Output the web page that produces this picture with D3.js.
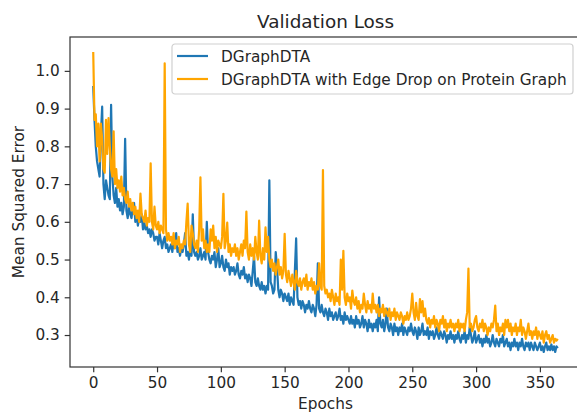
<!DOCTYPE html>
<html>
<head>
<meta charset="utf-8">
<script src="https://cdn.jsdelivr.net/npm/d3@7"></script>
<style>
  body { margin: 0; background: #fff; }
  text { font-family: "DejaVu Sans", sans-serif; fill: #262626; }
</style>
</head>
<body>
<div id="chart"></div>
<script>
const WIDTH = 577;
const HEIGHT = 412;
const MARGIN = { top: 37, right: -4, bottom: 45, left: 70 };

// validation loss per epoch
const dgraphdta = [
  0.96, 0.87, 0.80, 0.76, 0.74, 0.72, 0.83, 0.905, 0.70, 0.66,
  0.71, 0.69, 0.67, 0.66, 0.91, 0.72, 0.67, 0.65, 0.69, 0.64,
  0.66, 0.63, 0.65, 0.62, 0.64, 0.82, 0.63, 0.61, 0.64, 0.62,
  0.61, 0.64, 0.65, 0.60, 0.62, 0.59, 0.61, 0.60, 0.62, 0.58,
  0.60, 0.58, 0.59, 0.57, 0.58, 0.56, 0.58, 0.57, 0.55, 0.56,
  0.56, 0.54, 0.57, 0.55, 0.53, 0.55, 0.56, 0.53, 0.54, 0.52,
  0.53, 0.54, 0.52, 0.55, 0.53, 0.57, 0.52, 0.53, 0.51, 0.53,
  0.52, 0.54, 0.57, 0.51, 0.52, 0.50, 0.53, 0.51, 0.62, 0.52,
  0.51, 0.52, 0.50, 0.51, 0.53, 0.50, 0.51, 0.52, 0.50, 0.60,
  0.52, 0.50, 0.49, 0.51, 0.50, 0.52, 0.48, 0.50, 0.53, 0.48,
  0.49, 0.51, 0.48, 0.47, 0.50, 0.48, 0.49, 0.46, 0.48, 0.47,
  0.48, 0.46, 0.47, 0.49, 0.46, 0.45, 0.47, 0.46, 0.48, 0.45,
  0.46, 0.44, 0.46, 0.45, 0.43, 0.47, 0.51, 0.44, 0.43, 0.45,
  0.43, 0.42, 0.44, 0.42, 0.43, 0.41, 0.43, 0.42, 0.71, 0.44,
  0.43, 0.41, 0.42, 0.52, 0.48, 0.42, 0.40, 0.42, 0.41, 0.39,
  0.41, 0.40, 0.39, 0.41, 0.38, 0.40, 0.39, 0.38, 0.47, 0.556,
  0.40, 0.38, 0.39, 0.37, 0.39, 0.38, 0.36, 0.38, 0.37, 0.39,
  0.37, 0.36, 0.38, 0.37, 0.35, 0.38, 0.49, 0.37, 0.36, 0.38,
  0.36, 0.35, 0.37, 0.36, 0.34, 0.37, 0.35, 0.36, 0.34, 0.35,
  0.36, 0.34, 0.35, 0.37, 0.34, 0.35, 0.33, 0.36, 0.34, 0.35,
  0.34, 0.33, 0.35, 0.33, 0.34, 0.32, 0.35, 0.33, 0.34, 0.32,
  0.33, 0.35, 0.32, 0.34, 0.33, 0.31, 0.34, 0.32, 0.33, 0.31,
  0.33, 0.32, 0.34, 0.31, 0.40, 0.33, 0.32, 0.34, 0.31, 0.33,
  0.37, 0.32, 0.31, 0.33, 0.32, 0.30, 0.33, 0.31, 0.32, 0.30,
  0.32, 0.31, 0.33, 0.30, 0.32, 0.31, 0.30, 0.32, 0.31, 0.33,
  0.31, 0.30, 0.32, 0.31, 0.29, 0.32, 0.30, 0.31, 0.33, 0.30,
  0.31, 0.30, 0.32, 0.29, 0.31, 0.30, 0.31, 0.29, 0.30, 0.32,
  0.30, 0.29, 0.31, 0.30, 0.29, 0.31, 0.30, 0.28, 0.30, 0.29,
  0.31, 0.29, 0.30, 0.28, 0.30, 0.29, 0.31, 0.29, 0.28, 0.30,
  0.29, 0.31, 0.28, 0.30, 0.29, 0.32, 0.30, 0.28, 0.29, 0.31,
  0.28, 0.29, 0.30, 0.28, 0.29, 0.27, 0.29, 0.28, 0.30, 0.28,
  0.29, 0.27, 0.28, 0.30, 0.28, 0.27, 0.29, 0.28, 0.27, 0.29,
  0.28, 0.30, 0.27, 0.28, 0.29, 0.27, 0.28, 0.26, 0.28, 0.27,
  0.29, 0.27, 0.28, 0.26, 0.28, 0.27, 0.29, 0.27, 0.26, 0.28,
  0.27, 0.28, 0.26, 0.28, 0.27, 0.26, 0.28, 0.27, 0.26, 0.27,
  0.28, 0.26, 0.27, 0.255, 0.27, 0.28, 0.26, 0.27, 0.26, 0.275,
  0.26, 0.27, 0.255, 0.27, 0.265
];

const edgeDrop = [
  1.05, 0.87, 0.885, 0.80, 0.86, 0.76, 0.86, 0.82, 0.74, 0.73,
  0.87, 0.78, 0.875, 0.80, 0.74, 0.72, 0.84, 0.70, 0.74, 0.69,
  0.71, 0.68, 0.72, 0.67, 0.69, 0.66, 0.65, 0.68, 0.64, 0.66,
  0.63, 0.65, 0.62, 0.64, 0.61, 0.63, 0.60, 0.675, 0.62, 0.61,
  0.60, 0.63, 0.59, 0.61, 0.60, 0.755, 0.60, 0.58, 0.64, 0.59,
  0.58, 0.60, 0.57, 0.59, 0.58, 0.57, 1.02, 0.58, 0.55, 0.57,
  0.55, 0.56, 0.54, 0.57, 0.53, 0.55, 0.54, 0.56, 0.52, 0.54,
  0.53, 0.55, 0.54, 0.60, 0.648, 0.54, 0.52, 0.59, 0.57, 0.54,
  0.53, 0.55, 0.52, 0.58, 0.718, 0.55, 0.58, 0.53, 0.55, 0.52,
  0.54, 0.52, 0.58, 0.55, 0.59, 0.53, 0.56, 0.52, 0.55, 0.54,
  0.53, 0.56, 0.674, 0.53, 0.55, 0.598, 0.52, 0.54, 0.51, 0.53,
  0.52, 0.54, 0.51, 0.53, 0.50, 0.52, 0.54, 0.51, 0.55, 0.53,
  0.627, 0.52, 0.50, 0.54, 0.51, 0.53, 0.50, 0.56, 0.52, 0.50,
  0.603, 0.51, 0.49, 0.53, 0.50, 0.585, 0.52, 0.56, 0.50, 0.48,
  0.50, 0.47, 0.49, 0.46, 0.48, 0.50, 0.46, 0.48, 0.45, 0.47,
  0.568, 0.46, 0.44, 0.47, 0.45, 0.43, 0.46, 0.44, 0.42, 0.47,
  0.44, 0.43, 0.45, 0.42, 0.44, 0.45, 0.43, 0.46, 0.42, 0.44,
  0.43, 0.45, 0.42, 0.44, 0.41, 0.43, 0.42, 0.49, 0.43, 0.42,
  0.737, 0.43, 0.41, 0.42, 0.40, 0.41, 0.39, 0.42, 0.40, 0.38,
  0.41, 0.39, 0.40, 0.38, 0.50, 0.42, 0.523, 0.40, 0.38, 0.41,
  0.39, 0.40, 0.37, 0.418, 0.39, 0.38, 0.40, 0.37, 0.39, 0.36,
  0.38, 0.37, 0.41, 0.38, 0.36, 0.39, 0.37, 0.38, 0.36, 0.41,
  0.37, 0.38, 0.36, 0.38, 0.35, 0.37, 0.36, 0.38, 0.35, 0.37,
  0.36, 0.35, 0.37, 0.34, 0.36, 0.35, 0.37, 0.34, 0.36, 0.35,
  0.34, 0.36, 0.35, 0.33, 0.35, 0.34, 0.36, 0.34, 0.35, 0.37,
  0.41, 0.36, 0.34, 0.385, 0.35, 0.34, 0.395, 0.36, 0.39, 0.35,
  0.37, 0.34, 0.33, 0.345, 0.32, 0.34, 0.33, 0.35, 0.32, 0.34,
  0.33, 0.31, 0.34, 0.33, 0.35, 0.32, 0.34, 0.31, 0.33, 0.32,
  0.34, 0.32, 0.33, 0.31, 0.33, 0.32, 0.34, 0.31, 0.33, 0.32,
  0.33, 0.31, 0.34, 0.36, 0.476, 0.32, 0.33, 0.31, 0.32, 0.34,
  0.35, 0.32, 0.31, 0.33, 0.32, 0.34, 0.31, 0.33, 0.32, 0.30,
  0.32, 0.31, 0.33, 0.32, 0.34, 0.378, 0.31, 0.33, 0.30, 0.32,
  0.31, 0.33, 0.30, 0.34, 0.32, 0.34, 0.31, 0.33, 0.30, 0.32,
  0.31, 0.33, 0.30, 0.32, 0.31, 0.34, 0.30, 0.32, 0.31, 0.29,
  0.31, 0.33, 0.30, 0.31, 0.29, 0.31, 0.30, 0.32, 0.29, 0.31,
  0.30, 0.29, 0.31, 0.28, 0.30, 0.31, 0.29, 0.30, 0.28, 0.29,
  0.30, 0.28, 0.29, 0.285, 0.29
];

const seriesNames = ["DGraphDTA", "DGraphDTA with Edge Drop on Protein Graph"];
const seriesColors = ["#1f77b4", "#ffa500"];
const xTicks = [0, 50, 100, 150, 200, 250, 300, 350];
const yTicks = [0.3, 0.4, 0.5, 0.6, 0.7, 0.8, 0.9, 1.0];

const FONT = "15.3px";

const series = [dgraphdta, edgeDrop].map((values, i) => ({
  name: seriesNames[i],
  color: seriesColors[i],
  values: values.map((v, epoch) => ({ epoch, v }))
}));

const svg = d3.select("#chart").append("svg")
  .attr("width", WIDTH)
  .attr("height", HEIGHT);

const x0 = MARGIN.left, x1 = WIDTH - MARGIN.right;
const y0 = HEIGHT - MARGIN.bottom, y1 = MARGIN.top;

// matplotlib style 5% padding around the data
const nEpochs = d3.max(series, s => s.values.length) - 1;
const vMin = d3.min(series, s => d3.min(s.values, d => d.v));
const vMax = d3.max(series, s => d3.max(s.values, d => d.v));
const xPad = nEpochs * 0.05, yPad = (vMax - vMin) * 0.05;

const x = d3.scaleLinear().domain([-xPad, nEpochs + xPad]).range([x0, x1]);
const y = d3.scaleLinear().domain([vMin - yPad, vMax + yPad]).range([y0, y1]);

svg.append("clipPath").attr("id", "plot")
  .append("rect")
  .attr("x", x0).attr("y", y1)
  .attr("width", x1 - x0).attr("height", y0 - y1);

const line = d3.line()
  .x(d => x(d.epoch))
  .y(d => y(d.v));

svg.append("g")
  .attr("clip-path", "url(#plot)")
  .selectAll("path")
  .data(series)
  .join("path")
  .attr("fill", "none")
  .attr("stroke", d => d.color)
  .attr("stroke-width", 2.2)
  .attr("stroke-linejoin", "round")
  .attr("d", d => line(d.values));

// axes
const xAxis = svg.append("g")
  .attr("transform", `translate(0,${y0})`)
  .call(d3.axisBottom(x).tickValues(xTicks).tickSize(5.3).tickPadding(5).tickFormat(d3.format("d")));

const yAxis = svg.append("g")
  .attr("transform", `translate(${x0},0)`)
  .call(d3.axisLeft(y).tickValues(yTicks).tickSize(5.3).tickPadding(5).tickFormat(d3.format(".1f")));

[xAxis, yAxis].forEach(g => {
  g.select(".domain").remove();
  g.selectAll(".tick line").attr("stroke", "#333").attr("stroke-width", 1.2);
  g.selectAll(".tick text").style("font-size", FONT).attr("fill", "#262626");
});

// spines
svg.append("rect")
  .attr("x", x0).attr("y", y1)
  .attr("width", x1 - x0).attr("height", y0 - y1)
  .attr("fill", "none")
  .attr("stroke", "#333")
  .attr("stroke-width", 1.2);

svg.append("text")
  .attr("x", (x0 + x1) / 2)
  .attr("y", 28)
  .attr("text-anchor", "middle")
  .style("font-size", "18.4px")
  .text("Validation Loss");

svg.append("text")
  .attr("x", (x0 + x1) / 2)
  .attr("y", 408.5)
  .attr("text-anchor", "middle")
  .style("font-size", FONT)
  .text("Epochs");

svg.append("text")
  .attr("transform", `translate(24,${(y0 + y1) / 2}) rotate(-90)`)
  .attr("text-anchor", "middle")
  .style("font-size", FONT)
  .text("Mean Squared Error");

// legend
const legend = svg.append("g").attr("transform", "translate(172,44)");

legend.append("rect")
  .attr("width", 401)
  .attr("height", 50)
  .attr("rx", 3)
  .attr("fill", "rgba(255,255,255,0.8)")
  .attr("stroke", "#d0d0d0")
  .attr("stroke-width", 1.2);

const item = legend.selectAll("g.item")
  .data(series)
  .join("g")
  .attr("class", "item")
  .attr("transform", (d, i) => `translate(0,${12 + i * 23})`);

item.append("line")
  .attr("x1", 5).attr("x2", 36)
  .attr("stroke", d => d.color)
  .attr("stroke-width", 2.2);

item.append("text")
  .attr("x", 49)
  .attr("y", 5.5)
  .style("font-size", FONT)
  .text(d => d.name);
</script>
</body>
</html>
